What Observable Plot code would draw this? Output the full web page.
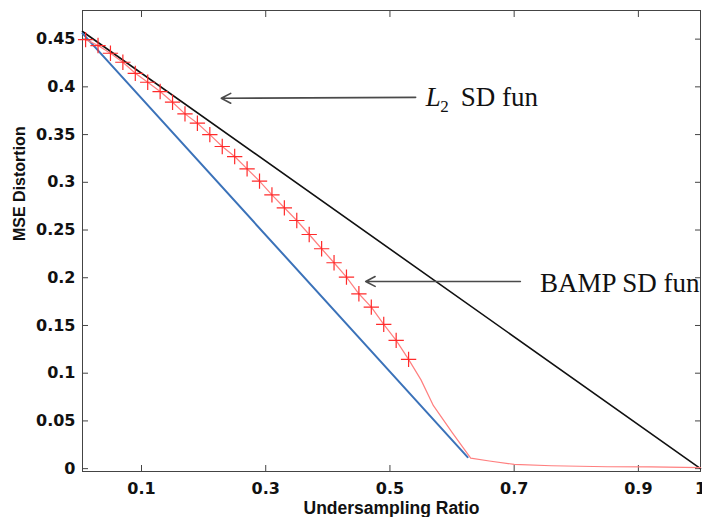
<!DOCTYPE html>
<html><head><meta charset="utf-8">
<script src="https://cdn.jsdelivr.net/npm/d3@7"></script>
<script src="https://cdn.jsdelivr.net/npm/@observablehq/plot@0.6"></script>
<style>body{margin:0;background:#fff}</style>
</head><body><div id="chart"></div>
<script>
// ---- data ----
const xTicks = [0.1, 0.3, 0.5, 0.7, 0.9, 1];
const yTicks = [0, 0.05, 0.1, 0.15, 0.2, 0.25, 0.3, 0.35, 0.4, 0.45];

// L2 SD function (black)
const l2X = [0.005, 1.0];
const l2Y = [0.458, 0.0];

// lower bound (blue)
const boundX = [0.005, 0.625];
const boundY = [0.456, 0.012];

// BAMP SD function, marked samples (red +)
const bampX = [0.01,0.03,0.05,0.07,0.09,0.11,0.13,0.15,0.17,0.19,0.21,0.23,0.25,0.27,
               0.29,0.31,0.33,0.35,0.37,0.39,0.41,0.43,0.45,0.47,0.49,0.51,0.53];
const bampY = [0.4495,0.4433,0.4352,0.4258,0.4142,0.4048,0.3951,0.3839,0.3717,0.3619,
               0.3500,0.3375,0.3270,0.3141,0.3012,0.2869,0.2733,0.2600,0.2453,0.2304,
               0.2157,0.2006,0.1832,0.1692,0.1511,0.1344,0.1145];
// BAMP SD function, tail without markers
const tailX = [0.53, 0.55, 0.57, 0.60, 0.63, 0.66, 0.70, 0.76, 0.85, 0.92, 1.0];
const tailY = [0.1145, 0.093, 0.066, 0.038, 0.011, 0.008, 0.0045, 0.003, 0.002, 0.0018, 0.001];

// annotations
const arrowFromX = [0.5414, 0.710];
const arrowFromY = [0.389, 0.1961];
const arrowToX   = [0.2284, 0.4609];
const arrowToY   = [0.388, 0.1961];
const labelTexts = ["SD fun", "BAMP SD fun"];
const labelX = [0.6139, 0.7416];
const labelY = [0.3804, 0.1849];
const l2MainText = ["L"], l2MainX = [0.5575], l2MainY = [0.3804];
const l2SubText = ["2"], l2SubX = [0.5810], l2SubY = [0.3734];

// ---- tables ----
const zip = (xs, ys) => xs.map((x, i) => ({x, y: ys[i]}));
const l2 = zip(l2X, l2Y), bound = zip(boundX, boundY);
const bamp = zip(bampX, bampY), tail = zip(tailX, tailY);
const arrows = arrowFromX.map((x, i) => ({x1: x, y1: arrowFromY[i], x2: arrowToX[i], y2: arrowToY[i]}));
const labels = labelTexts.map((t, i) => ({t, x: labelX[i], y: labelY[i]}));
const l2Main = l2MainText.map((t, i) => ({t, x: l2MainX[i], y: l2MainY[i]}));
const l2Sub = l2SubText.map((t, i) => ({t, x: l2SubX[i], y: l2SubY[i]}));

const fmt = d => String(+d.toFixed(2));
const axisColor = "#444";
const serif = "'Liberation Serif', 'Times New Roman', serif";
const tickFont = "'DejaVu Sans', sans-serif";

const chart = Plot.plot({
  width: 702, height: 517,
  marginLeft: 82, marginRight: 2, marginTop: 10, marginBottom: 46,
  style: {fontFamily: "'Liberation Sans', Arial, sans-serif", fontWeight: "bold", background: "#fff", color: "#111"},
  x: {domain: [0.005, 1.0]},
  y: {domain: [-0.003, 0.48]},
  marks: [
    Plot.frame({stroke: axisColor, strokeWidth: 1}),
    Plot.axisX(xTicks, {anchor: "bottom", tickSize: -6, tickPadding: 17, tickFormat: fmt, fontSize: 16, fontFamily: tickFont, stroke: axisColor, label: null}),
    Plot.axisX(xTicks, {anchor: "top", tickSize: -6, tickFormat: () => "", stroke: axisColor, label: null}),
    Plot.axisY(yTicks, {anchor: "left", tickSize: -6, tickPadding: 13, tickFormat: fmt, fontSize: 16, fontFamily: tickFont, stroke: axisColor, label: null}),
    Plot.axisY(yTicks, {anchor: "right", tickSize: -6, tickFormat: () => "", stroke: axisColor, label: null}),
    Plot.text(["Undersampling Ratio"], {frameAnchor: "bottom", dy: 42, lineAnchor: "bottom", fontSize: 17.5, fontWeight: "bold", fill: "#111"}),
    Plot.text(["MSE Distortion"], {frameAnchor: "left", dx: -63, rotate: -90, lineAnchor: "middle", fontSize: 16, fontWeight: "bold", fill: "#111"}),
    Plot.line(l2, {x: "x", y: "y", stroke: "#111", strokeWidth: 1.6}),
    Plot.line(bound, {x: "x", y: "y", stroke: "#3b72b9", strokeWidth: 2}),
    Plot.line(bamp, {x: "x", y: "y", stroke: "#ff7f7f", strokeWidth: 1.2}),
    Plot.line(tail, {x: "x", y: "y", stroke: "#ff7f7f", strokeWidth: 1.2}),
    Plot.dot(bamp, {x: "x", y: "y", symbol: "plus", r: 5, stroke: "#ff2a2a", strokeWidth: 1.2}),
    Plot.arrow(arrows, {x1: "x1", y1: "y1", x2: "x2", y2: "y2", stroke: "#4a4a4a", strokeWidth: 1.6, headLength: 10, headAngle: 55}),
    Plot.text(labels, {x: "x", y: "y", text: "t", textAnchor: "start", lineAnchor: "bottom", fontSize: 27, fontWeight: "normal", fontFamily: serif, fill: "#111"}),
    Plot.text(l2Main, {x: "x", y: "y", text: "t", textAnchor: "start", lineAnchor: "bottom", fontSize: 27, fontWeight: "normal", fontStyle: "italic", fontFamily: serif, fill: "#111"}),
    Plot.text(l2Sub, {x: "x", y: "y", text: "t", textAnchor: "start", lineAnchor: "bottom", fontSize: 17, fontWeight: "normal", fontFamily: serif, fill: "#111"})
  ]
});
document.getElementById("chart").appendChild(chart);
</script>
</body></html>
